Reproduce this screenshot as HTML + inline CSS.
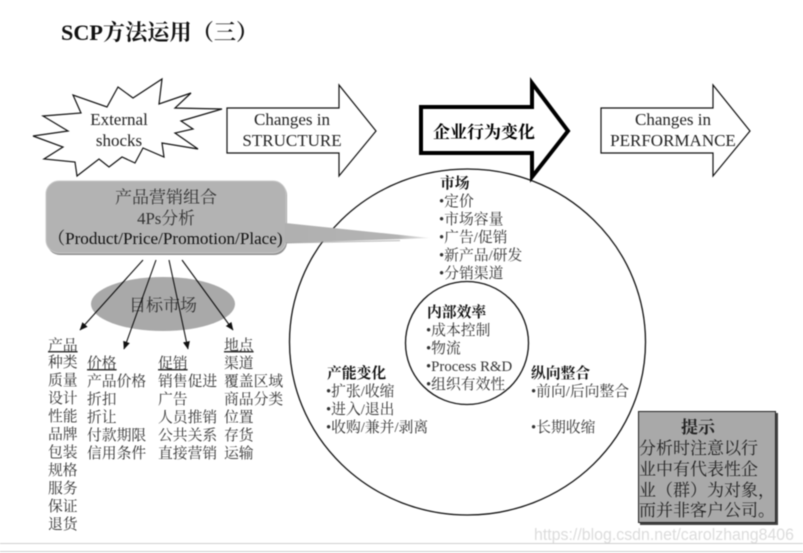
<!DOCTYPE html>
<html><head><meta charset="utf-8">
<style>
html,body{margin:0;padding:0;background:#fff;width:803px;height:553px;overflow:hidden}
svg{display:block;filter:blur(.4px)}
text{font-family:"Liberation Serif","Noto Serif CJK SC",serif;font-size:14.8px;fill:#333}
.e{font-size:17px;fill:#222}
.b{font-weight:bold;fill:#111}
.m{text-anchor:middle}
.h{font-size:17px;fill:#222}
.u{text-decoration:underline}
</style></head><body>
<svg width="803" height="553" viewBox="0 0 803 553" xmlns="http://www.w3.org/2000/svg">
<defs>
<linearGradient id="g" x1="286" x2="430" y1="0" y2="0" gradientUnits="userSpaceOnUse">
<stop offset="0" stop-color="#b0b0b0"/><stop offset=".78" stop-color="#b4b4b4"/><stop offset="1" stop-color="#eeeeee"/></linearGradient>
<marker id="a" markerWidth="9" markerHeight="9" refX="7.5" refY="3.5" orient="auto" markerUnits="userSpaceOnUse"><path d="M0 0L8 3.5L0 7z" fill="#111"/></marker>
</defs>
<rect width="803" height="553" fill="#fff"/>
<text x="61" y="40" class="b" style="font-size:22.2px">SCP方法运用（三）</text>

<polygon points="162,79 159,104 191,93 175,108 222,109 181,121 193,129 175,133 198,149 162,143 164,157 143,148 135,163 122,157 109,167 99,159 77,176 75,162 44,159 63,147 33,136 68,131 43,116 81,113 73,95 107,107 118,87 133,98" fill="#fff" stroke="#111" stroke-width="1.2"/>
<text x="119" y="125" class="e m">External</text>
<text x="119" y="146" class="e m">shocks</text>

<polygon points="227,108 339,108 339,85 376,131 339,176 339,153 227,153" fill="#fff" stroke="#111" stroke-width="1.2"/>
<text x="292" y="125" class="e m">Changes in</text>
<text x="292" y="146" class="e m">STRUCTURE</text>

<ellipse cx="467.5" cy="342" rx="178" ry="173" fill="#fff" stroke="#111" stroke-width="1.3"/>

<polygon points="421,107 532,107 532,83 568,131 532,177 532,153 421,153" fill="#fff" stroke="#000" stroke-width="4"/>
<text x="484" y="138" class="e b m" style="fill:#000">企业行为变化</text>

<polygon points="601,108 713,108 713,85 750,131 713,176 713,153 601,153" fill="#fff" stroke="#111" stroke-width="1.2"/>
<text x="673" y="125" class="e m">Changes in</text>
<text x="673" y="146" class="e m">PERFORMANCE</text>

<rect x="47" y="182" width="240" height="73" rx="13" fill="#8f8f8f"/>
<rect x="46" y="181" width="240" height="72" rx="13" fill="#b3b3b3" stroke="#c8c8c8"/>
<polygon points="285,223 430,238 285,243" fill="url(#g)"/>
<line x1="286" y1="243" x2="400" y2="240.6" stroke="#888" stroke-width="1" opacity=".6"/>
<text x="166" y="203" class="m" style="font-size:17px">产品营销组合</text>
<text x="166" y="224" class="m" style="font-size:16.8px">4Ps分析</text>
<text x="48" y="244" style="font-size:17.1px;fill:#111">（Product/Price/Promotion/Place)</text>

<ellipse cx="163" cy="304" rx="72" ry="27" fill="#a9a9a9"/>
<text x="163" y="311" class="m" style="font-size:17px">目标市场</text>

<g stroke="#111" stroke-width="1.1" marker-end="url(#a)">
<line x1="143" y1="260" x2="80" y2="330"/>
<line x1="156" y1="260" x2="124" y2="349"/>
<line x1="169" y1="260" x2="188" y2="349"/>
<line x1="182" y1="260" x2="233" y2="330"/>
</g>

<text x="48" y="350" class="u">产品</text>
<text x="48" y="367">种类</text>
<text x="48" y="385">质量</text>
<text x="48" y="403">设计</text>
<text x="48" y="421">性能</text>
<text x="48" y="439">品牌</text>
<text x="48" y="457">包装</text>
<text x="48" y="475">规格</text>
<text x="48" y="493">服务</text>
<text x="48" y="511">保证</text>
<text x="48" y="529">退货</text>

<text x="87" y="368" class="u">价格</text>
<text x="87" y="386">产品价格</text>
<text x="87" y="404">折扣</text>
<text x="87" y="422">折让</text>
<text x="87" y="440">付款期限</text>
<text x="87" y="458">信用条件</text>

<text x="158" y="368" class="u">促销</text>
<text x="158" y="386">销售促进</text>
<text x="158" y="404">广告</text>
<text x="158" y="422">人员推销</text>
<text x="158" y="440">公共关系</text>
<text x="158" y="458">直接营销</text>

<text x="224" y="350" class="u">地点</text>
<text x="224" y="368">渠道</text>
<text x="224" y="386">覆盖区域</text>
<text x="224" y="404">商品分类</text>
<text x="224" y="422">位置</text>
<text x="224" y="440">存货</text>
<text x="224" y="458">运输</text>

<text x="440" y="188" class="b">市场</text>
<text x="439" y="206">•定价</text>
<text x="439" y="224">•市场容量</text>
<text x="439" y="242">•广告/促销</text>
<text x="439" y="260">•新产品/研发</text>
<text x="439" y="278">•分销渠道</text>

<circle cx="467" cy="343" r="61.5" fill="#fff" stroke="#111" stroke-width="1.3"/>
<text x="427" y="317" class="b">内部效率</text>
<text x="426" y="335">•成本控制</text>
<text x="426" y="353">•物流</text>
<text x="426" y="371">•Process R&amp;D</text>
<text x="426" y="389">•组织有效性</text>

<text x="327" y="378" class="b">产能变化</text>
<text x="326" y="396">•扩张/收缩</text>
<text x="326" y="414">•进入/退出</text>
<text x="326" y="432">•收购/兼并/剥离</text>

<text x="531" y="378" class="b">纵向整合</text>
<text x="531" y="396">•前向/后向整合</text>
<text x="531" y="432">•长期收缩</text>

<rect x="640" y="413" width="138" height="112" fill="#444"/>
<rect x="638.5" y="411.5" width="137" height="111" fill="#a9a9a9" stroke="#222" stroke-width="1"/>
<text x="698" y="433" class="h b m">提示</text>
<text x="639" y="454" class="h">分析时注意以行</text>
<text x="639" y="475" class="h">业中有代表性企</text>
<text x="639" y="496" class="h">业（群）为对象，</text>
<text x="639" y="516" class="h">而并非客户公司。</text>

<text x="534" y="540" textLength="260" lengthAdjust="spacingAndGlyphs" style="font-family:'Liberation Sans',sans-serif;font-size:17px;fill:#dcdcdc">https://blog.csdn.net/carolzhang8406</text>
<rect x="0" y="543" width="803" height="1" fill="#cfcfcf"/>
<rect x="0" y="551" width="803" height="1" fill="#cfcfcf"/>
</svg>
</body></html>
